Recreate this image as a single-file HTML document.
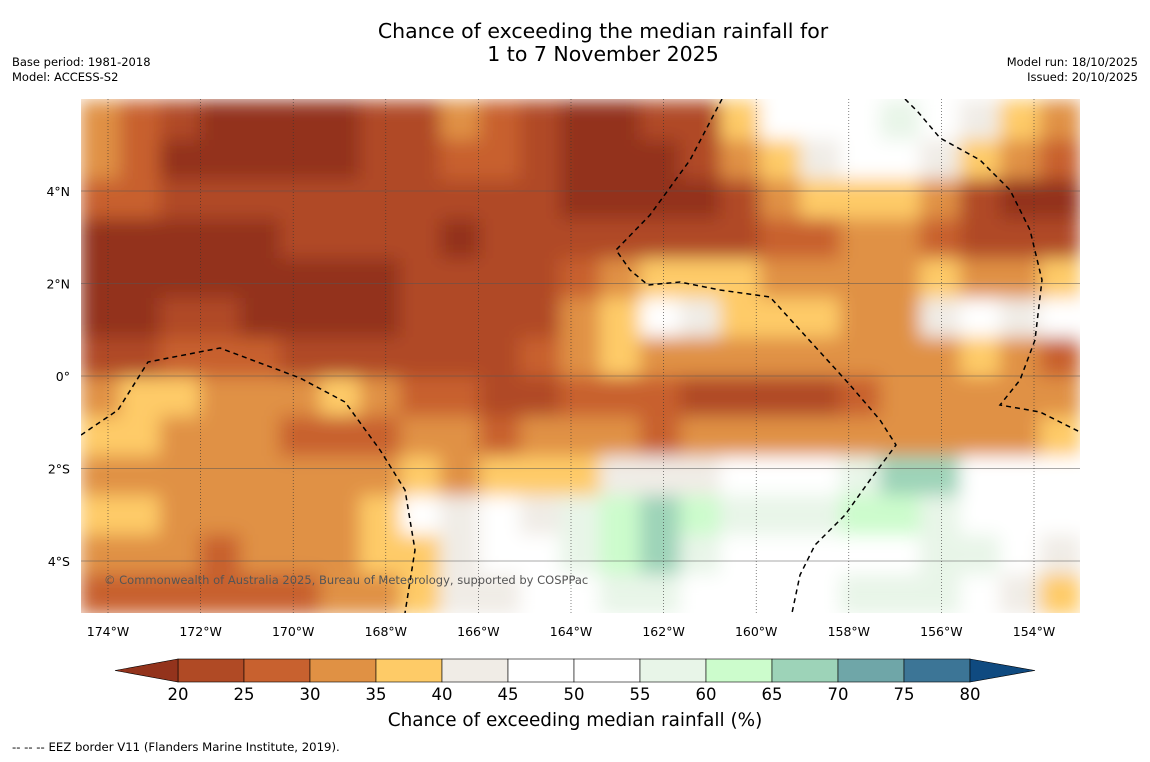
<!DOCTYPE html>
<html><head><meta charset="utf-8"><style>
body{margin:0;background:#fff;font-family:"DejaVu Sans",sans-serif;}
svg text{font-family:"DejaVu Sans",sans-serif;}
</style></head><body>
<svg id="chart" width="1150" height="758" viewBox="0 0 1150 758" xmlns="http://www.w3.org/2000/svg">
<rect width="1150" height="758" fill="#fff"/>
<text x="603" y="38" text-anchor="middle" font-size="20.5">Chance of exceeding the median rainfall for</text>
<text x="603" y="61" text-anchor="middle" font-size="20.5">1 to 7 November 2025</text>
<text x="12" y="66" font-size="11.5">Base period: 1981-2018</text>
<text x="12" y="81" font-size="11.5">Model: ACCESS-S2</text>
<text x="1138" y="66" font-size="11.5" text-anchor="end">Model run: 18/10/2025</text>
<text x="1138" y="81" font-size="11.5" text-anchor="end">Issued: 20/10/2025</text>
<defs>
<clipPath id="mapclip"><rect x="81" y="99" width="999" height="514"/></clipPath>
<filter id="smooth" x="-5%" y="-5%" width="110%" height="110%"><feGaussianBlur stdDeviation="9" edgeMode="duplicate"/></filter>
</defs>
<g clip-path="url(#mapclip)">
<g id="cells" filter="url(#smooth)"></g>
<g id="grid"></g>
<g fill="none" stroke="#000" stroke-width="1.5" stroke-dasharray="5,4">
<path d="M81,435 L118,410 L148,362 L220,348 L300,378 L345,402 L380,450 L405,490 L415,550 L405,613"/>
<path d="M722,99 L690,160 L650,215 L616,250 L630,270 L648,285 L680,282 L720,290 L770,297 L800,330 L850,385 L880,420 L896,445 L870,480 L845,515 L815,545 L800,575 L792,613"/>
<path d="M905,99 L918,112 L940,138 L980,160 L1010,190 L1030,230 L1042,280 L1035,340 L1020,380 L1000,405 L1040,412 L1080,432"/>
</g>
</g>
<text x="104" y="584" font-size="11.5" fill="#555">© Commonwealth of Australia 2025, Bureau of Meteorology, supported by COSPPac</text>
<g id="axes"></g>
<g id="colorbar"></g>
<text x="575" y="726" text-anchor="middle" font-size="18.4">Chance of exceeding median rainfall (%)</text>
<text x="12" y="751" font-size="11.7">--  --  -- EEZ border V11 (Flanders Marine Institute, 2019).</text>
</svg>
<script>
const lonTicks = [-174,-172,-170,-168,-166,-164,-162,-160,-158,-156,-154];
const latTicks = [4,2,0,-2,-4];
const levelBounds = [20,25,30,35,40,45,50,55,60,65,70,75,80];
const levelColors = ["#93331c","#b04a25","#c8612f","#e09144","#fecb67","#f0ece6","#ffffff","#ffffff","#e8f5e8","#ccfccc","#9dd3b8","#6fa6a8","#3c7596","#0f4a80"];
const gridLonStart = -174.6, gridLonStep = 0.864;
const gridLatStart = 5.95, gridLatStep = -0.854;
const rainfall = [
[32,27,22,17,17,17,17,22,22,32,27,22,17,17,22,22,37,50,50,50,57,50,42,37,32],
[32,27,17,17,17,17,17,22,22,27,27,22,17,17,17,22,32,37,42,50,50,42,37,32,27],
[27,27,22,22,22,22,22,22,22,22,22,22,17,17,17,17,22,32,37,37,37,32,22,17,17],
[17,17,17,17,17,22,22,22,22,17,22,22,22,22,22,22,22,27,27,32,32,27,22,22,22],
[17,17,17,17,17,17,17,17,22,22,22,22,27,32,37,37,37,32,32,32,32,37,32,32,37],
[17,17,22,22,17,17,17,17,22,22,22,22,32,37,50,42,37,37,37,32,32,42,50,42,50],
[22,22,27,27,27,22,22,22,22,22,22,27,32,37,32,32,32,32,32,32,32,32,37,32,27],
[32,37,37,32,32,32,37,32,27,27,22,22,27,27,27,22,22,22,22,27,32,32,32,32,32],
[37,37,32,32,32,27,27,27,32,32,27,32,32,32,27,32,32,32,32,32,32,32,32,32,37],
[32,32,32,32,32,32,32,32,37,32,37,37,37,42,42,42,50,50,50,57,67,67,50,50,50],
[37,37,32,32,32,32,32,37,50,42,50,42,57,62,67,62,57,57,57,62,62,57,50,50,50],
[32,32,32,27,32,32,32,37,37,42,50,50,57,62,67,57,50,50,50,50,50,57,57,50,42],
[27,27,27,27,27,27,32,32,37,42,42,50,50,57,57,50,50,50,50,57,57,57,50,42,37]
];
const NS="http://www.w3.org/2000/svg";
const X0=81,X1=1080,Y0=99,Y1=613;
function xScale(lon){return 108+(lon+174)*(1034-108)/20;}
function yScale(lat){return 376-lat*(376-191)/4;}
function colorFor(v){let i=0;while(i<levelBounds.length&&v>=levelBounds[i])i++;return levelColors[i];}
function mk(tag,attrs,parent){const e=document.createElementNS(NS,tag);for(const k in attrs)e.setAttribute(k,attrs[k]);parent.appendChild(e);return e;}
const cells=document.getElementById('cells');
rainfall.forEach((row,r)=>row.forEach((v,c)=>{
 const lonA=gridLonStart+c*gridLonStep, latA=gridLatStart+r*gridLatStep;
 const xa=xScale(lonA), xb=xScale(lonA+gridLonStep), ya=yScale(latA), yb=yScale(latA+gridLatStep);
 const el=mk('rect',{x:xa-0.5,y:ya-0.5,width:xb-xa+1,height:yb-ya+1,fill:colorFor(v)},cells);
 
 
}));
const grid=document.getElementById('grid');
lonTicks.forEach(l=>{const el=mk('line',{x1:xScale(l),x2:xScale(l),y1:Y0,y2:Y1,stroke:'#333','stroke-width':0.6,'stroke-dasharray':'1,2'},grid);
 
 });
latTicks.forEach(l=>{const el=mk('line',{x1:X0,x2:X1,y1:yScale(l),y2:yScale(l),stroke:'#555','stroke-width':0.5},grid);
 
 });
const axes=document.getElementById('axes');
lonTicks.forEach(l=>{const t=mk('text',{x:xScale(l),y:636,'text-anchor':'middle','font-size':12.5},axes);t.textContent=Math.abs(l)+'°W';
 
 });
latTicks.forEach(l=>{const t=mk('text',{x:70,y:yScale(l)+5,'text-anchor':'end','font-size':12.5},axes);t.textContent=l===0?'0°':Math.abs(l)+'°'+(l>0?'N':'S');
 
 });
const cb=document.getElementById('colorbar');
const cbX=v=>178+(v-20)*66/5;
for(let i=0;i<levelBounds.length-1;i++){
 const r=mk('rect',{x:cbX(levelBounds[i]),y:659,width:66,height:23,fill:levelColors[i+1],stroke:'#000','stroke-width':0.6},cb);
 
 
}
const lt=mk('polygon',{points:'115,670.5 178,659 178,682',fill:levelColors[0],stroke:'#000','stroke-width':0.6},cb);


const rt=mk('polygon',{points:'970,659 1035,670.5 970,682',fill:levelColors[13],stroke:'#000','stroke-width':0.6},cb);


levelBounds.forEach(v=>{const t=mk('text',{x:cbX(v),y:700,'text-anchor':'middle','font-size':16.5},cb);t.textContent=v;
 
 });
</script>
</body></html>
